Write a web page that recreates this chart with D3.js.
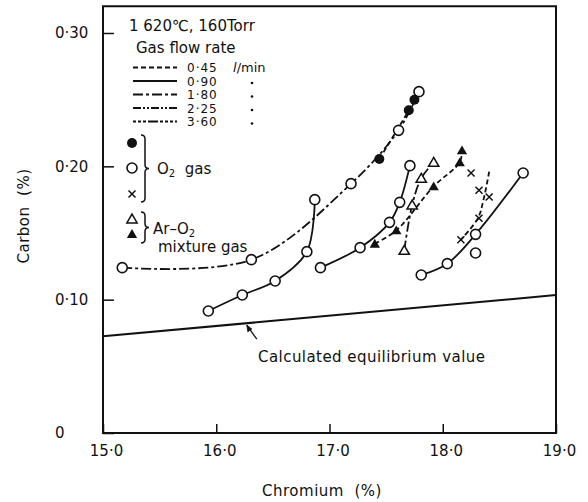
<!DOCTYPE html>
<html><head><meta charset="utf-8">
<script src="https://cdn.jsdelivr.net/npm/d3@7"></script>
<style>
body{margin:0;background:#fff}
text{font-family:"DejaVu Sans",sans-serif;fill:#111}
</style>
</head><body><svg id="c" width="588" height="502"></svg>
<script>
// ---------- data ----------
const xTickValues = [15, 16, 17, 18, 19];
const xTickLabels = ["15·0", "16·0", "17·0", "18·0", "19·0"];
const yTickValues = [0, 0.1, 0.2, 0.3];
const yTickLabels = ["0", "0·10", "0·20", "0·30"];

const flowRates = ["0·45", "0·90", "1·80", "2·25", "3·60"];

// O2 gas, open circles, 1.80 l/min (dash-dot)
const o2Open180Cr = [15.17, 16.31, 17.19, 17.61, 17.79];
const o2Open180C  = [0.124, 0.130, 0.187, 0.227, 0.256];
// O2 gas, filled circles, 0.45 l/min (dashed)
const o2Filled045Cr = [17.44, 17.70, 17.75];
const o2Filled045C  = [0.2055, 0.242, 0.250];
// O2 gas, open circles, 0.90 l/min (solid) - left curve
const o2Open090aCr = [15.93, 16.23, 16.52, 16.80, 16.87];
const o2Open090aC  = [0.0915, 0.1035, 0.114, 0.136, 0.175];
// O2 gas, open circles, 0.90 l/min (solid) - middle curve
const o2Open090bCr = [16.92, 17.27, 17.53, 17.62, 17.71];
const o2Open090bC  = [0.124, 0.139, 0.158, 0.173, 0.2005];
// O2 gas, open circles, 0.90 l/min (solid) - right curve
const o2Open090cCr = [17.81, 18.04, 18.29, 18.71];
const o2Open090cC  = [0.1185, 0.127, 0.149, 0.195];
// isolated open circle
const o2OpenSingleCr = [18.29];
const o2OpenSingleC  = [0.135];
// O2 gas, crosses
const o2CrossCr = [18.25, 18.32, 18.41, 18.32, 18.16];
const o2CrossC  = [0.195, 0.182, 0.177, 0.161, 0.145];
const o2CrossLineCr = [18.41, 18.36, 18.31, 18.16];
const o2CrossLineC  = [0.196, 0.175, 0.161, 0.145];
// Ar-O2 mixture, open triangles
const arOpenCr = [17.66, 17.73, 17.81, 17.92];
const arOpenC  = [0.137, 0.171, 0.191, 0.203];
// Ar-O2 mixture, filled triangles
const arFilledCr = [17.40, 17.59, 17.92, 18.15, 18.17];
const arFilledC  = [0.142, 0.152, 0.185, 0.203, 0.212];
// calculated equilibrium value
const eqCr = [15, 19];
const eqC  = [0.0725, 0.1035];

// ---------- drawing ----------
const svg = d3.select("#c");
const x = d3.scaleLinear().domain([15, 19]).range([103, 556]);
const y = d3.scaleLinear().domain([0, 0.3]).range([433, 33]);
const yTop = 0.32;

const zip = (a, b) => a.map((v, i) => [v, b[i]]);
const smooth = d3.line().x(d => x(d[0])).y(d => y(d[1])).curve(d3.curveCatmullRom.alpha(0.5));
const straight = d3.line().x(d => x(d[0])).y(d => y(d[1]));

const dash = {
  "0·45": "5,3",
  "0·90": null,
  "1·80": "10,3,3,3",
  "2·25": "8,2,2,2,2,2",
  "3·60": "3,2,3,2,3,2,10,2"
};

// frame
svg.append("path")
  .attr("d", `M${x(15)},${y(yTop)}H${x(19)}V${y(0)}H${x(15)}Z`)
  .attr("fill", "none").attr("stroke", "#111").attr("stroke-width", 2);

// axes
const xAxis = d3.axisBottom(x).tickValues(xTickValues)
  .tickFormat((d, i) => xTickLabels[i]).tickSize(-9).tickPadding(12);
const gx = svg.append("g").attr("transform", `translate(0,${y(0)})`).call(xAxis);
gx.select(".domain").remove();
gx.selectAll("line").attr("stroke", "#111").attr("stroke-width", 1.5);
gx.selectAll("text").style("font-size", "15px").attr("fill", "#111").attr("dx", 3);

const yAxis = d3.axisLeft(y).tickValues(yTickValues)
  .tickFormat((d, i) => yTickLabels[i]).tickSize(-11).tickPadding(14);
const gy = svg.append("g").attr("transform", `translate(${x(15)},0)`).call(yAxis);
gy.select(".domain").remove();
gy.selectAll("line").attr("stroke", "#111").attr("stroke-width", 1.5);
gy.selectAll("text").style("font-size", "15px").attr("fill", "#111")
  .attr("text-anchor", "start").attr("x", -48);

// axis titles
svg.append("text").attr("x", 322).attr("y", 496).attr("text-anchor", "middle")
  .style("font-size", "15px").style("white-space", "pre").style("letter-spacing", "0.5px")
  .text("Chromium  (%)");
svg.append("text").attr("transform", "translate(29,216) rotate(-90)").attr("text-anchor", "middle")
  .style("font-size", "15px").style("white-space", "pre").style("letter-spacing", "0.5px")
  .text("Carbon  (%)");

// equilibrium line
svg.append("path").attr("d", straight(zip(eqCr, eqC)))
  .attr("fill", "none").attr("stroke", "#111").attr("stroke-width", 2);

// curves
function curve(cr, c, key, sw) {
  const p = svg.append("path").attr("d", smooth(zip(cr, c)))
    .attr("fill", "none").attr("stroke", "#111").attr("stroke-width", sw || 1.8);
  if (dash[key]) p.attr("stroke-dasharray", dash[key]);
}
curve(o2Open180Cr, o2Open180C, "1·80");
curve(o2Filled045Cr, o2Filled045C, "0·45");
curve(o2Open090aCr, o2Open090aC, "0·90");
curve(o2Open090bCr, o2Open090bC, "0·90");
curve(o2Open090cCr, o2Open090cC, "0·90");
curve(o2CrossLineCr, o2CrossLineC, "0·45");
curve(arOpenCr, arOpenC, "1·80");
curve(arFilledCr, arFilledC, "0·45");

// markers
const tri = d3.symbol().type(d3.symbolTriangle).size(46)();
function marker(g, kind, cx, cy) {
  if (kind === "oc") g.append("circle").attr("cx", cx).attr("cy", cy).attr("r", 5)
    .attr("fill", "#fff").attr("stroke", "#111").attr("stroke-width", 1.6);
  if (kind === "fc") g.append("circle").attr("cx", cx).attr("cy", cy).attr("r", 5)
    .attr("fill", "#111");
  if (kind === "x") g.append("path").attr("transform", `translate(${cx},${cy})`)
    .attr("d", "M-3.5,-3.5L3.5,3.5M-3.5,3.5L3.5,-3.5").attr("stroke", "#111").attr("stroke-width", 1.5);
  if (kind === "ot") g.append("path").attr("transform", `translate(${cx},${cy + 1})`)
    .attr("d", tri).attr("fill", "#fff").attr("stroke", "#111").attr("stroke-width", 1.5);
  if (kind === "ft") g.append("path").attr("transform", `translate(${cx},${cy + 1})`)
    .attr("d", tri).attr("fill", "#111");
}
const mg = svg.append("g");
function points(cr, c, kind) { cr.forEach((v, i) => marker(mg, kind, x(v), y(c[i]))); }
points(o2Open180Cr, o2Open180C, "oc");
points(o2Open090aCr, o2Open090aC, "oc");
points(o2Open090bCr, o2Open090bC, "oc");
points(o2Open090cCr, o2Open090cC, "oc");
points(o2OpenSingleCr, o2OpenSingleC, "oc");
points(o2Filled045Cr, o2Filled045C, "fc");
points(o2CrossCr, o2CrossC, "x");
points(arOpenCr, arOpenC, "ot");
points(arFilledCr, arFilledC, "ft");

// annotation for equilibrium
const ax = 16.27;
const ay = eqC[0] + (eqC[1] - eqC[0]) * (ax - eqCr[0]) / (eqCr[1] - eqCr[0]);
const tipX = x(ax), tipY = y(ay) + 2;
svg.append("path").attr("d", `M${tipX + 10},${tipY + 14}L${tipX},${tipY}`)
  .attr("stroke", "#111").attr("stroke-width", 1.3);
svg.append("path").attr("d", `M${tipX},${tipY}l1,6.5l4,-2.8z`).attr("fill", "#111")
  .attr("stroke", "#111").attr("stroke-width", 0.8);
svg.append("text").attr("x", 258).attr("y", 362).style("font-size", "15px")
  .style("letter-spacing", "0.45px").text("Calculated equilibrium value");

// legend
svg.append("text").attr("x", 129).attr("y", 31).style("font-size", "15px")
  .text("1 620℃, 160Torr");
svg.append("text").attr("x", 136).attr("y", 53).style("font-size", "15px")
  .text("Gas flow rate");
flowRates.forEach((r, i) => {
  const yy = 67.5 + i * 13.5;
  const p = svg.append("line").attr("x1", 133).attr("x2", 177).attr("y1", yy).attr("y2", yy)
    .attr("stroke", "#111").attr("stroke-width", 1.8);
  if (dash[r]) p.attr("stroke-dasharray", dash[r]);
  svg.append("text").attr("x", 187).attr("y", yy + 4.5).style("font-size", "12px")
    .style("letter-spacing", "1px").text(r);
  if (i === 0) {
    svg.append("text").attr("x", 233).attr("y", yy + 4.5).style("font-size", "13px")
      .html('<tspan font-style="italic">l</tspan>/min');
  } else {
    svg.append("circle").attr("cx", 252).attr("cy", yy + 2).attr("r", 1.3).attr("fill", "#111");
  }
});

const lg = svg.append("g");
marker(lg, "fc", 132, 143);
marker(lg, "oc", 132, 168);
marker(lg, "x", 132, 194);
marker(lg, "ot", 132, 219);
marker(lg, "ft", 132, 234);

function brace(x0, y0, y1, w) {
  const ym = (y0 + y1) / 2, xm = x0 + w / 2;
  return `M${x0},${y0}Q${xm},${y0} ${xm},${y0 + 4}L${xm},${ym - 4}Q${xm},${ym} ${x0 + w},${ym}` +
         `Q${xm},${ym} ${xm},${ym + 4}L${xm},${y1 - 4}Q${xm},${y1} ${x0},${y1}`;
}
svg.append("path").attr("d", brace(141, 135, 202, 8)).attr("fill", "none")
  .attr("stroke", "#111").attr("stroke-width", 1.5);
svg.append("path").attr("d", brace(141, 212, 243, 8)).attr("fill", "none")
  .attr("stroke", "#111").attr("stroke-width", 1.5);

svg.append("text").attr("x", 157).attr("y", 174).style("font-size", "15px").style("white-space", "pre")
  .html('O<tspan font-size="10px" dy="3">2</tspan><tspan dy="-3">  gas</tspan>');
svg.append("text").attr("x", 153).attr("y", 234).style("font-size", "15px")
  .html('Ar–O<tspan font-size="10px" dy="3">2</tspan>');
svg.append("text").attr("x", 158).attr("y", 252).style("font-size", "15px")
  .text("mixture gas");
</script>
</body></html>
